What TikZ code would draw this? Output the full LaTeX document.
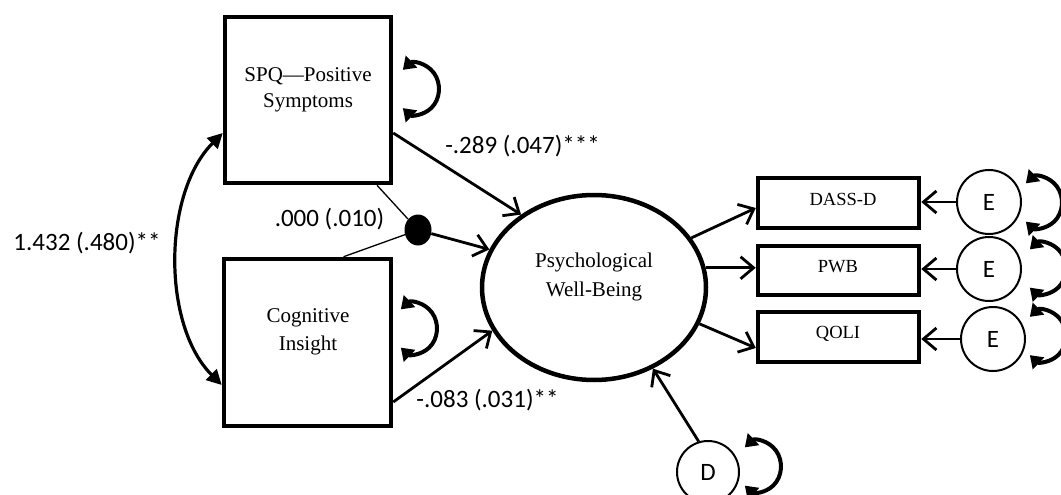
\documentclass[tikz,border=0pt]{standalone}
\usepackage{fontspec}
\setmainfont{Liberation Serif}
\newfontfamily\labfont{Carlito}
\usetikzlibrary{arrows.meta,shapes.geometric}
\begin{document}
\begin{tikzpicture}[x=1pt,y=-1pt,
  sqbox/.style={draw,line width=4.5pt,minimum width=166pt,minimum height=166pt,inner sep=0pt},
  indbox/.style={draw,line width=4.5pt,minimum width=161pt,minimum height=50pt,inner sep=0pt},
  latent/.style={draw,ellipse,line width=4.5pt,minimum width=224pt,minimum height=185pt,inner sep=0pt},
  errc/.style={draw,circle,line width=2pt,minimum size=64pt,inner sep=0pt,font=\labfont\fontsize{25}{30}\selectfont},
  ltxt/.style={font=\fontsize{21}{26}\selectfont,align=center,inner sep=0pt},
  itxt/.style={font=\fontsize{18.5}{22}\selectfont,anchor=base,inner sep=0pt},
  coef/.style={font=\labfont\fontsize{25}{30}\selectfont,anchor=base,inner sep=0pt},
  regarrow/.style={line width=2.8pt,-{Straight Barb[length=13pt,width=22pt]}},
  thinline/.style={line width=1.3pt},
  covarrow/.style={line width=3.2pt,{Triangle[length=15pt,width=15pt]}-{Triangle[length=15pt,width=15pt]}},
  selfloop/.style={line width=4pt,{Triangle[length=12pt,width=16pt]}-{Triangle[length=12pt,width=16pt]}},
]
\useasboundingbox (0,0) rectangle (1061,495);
\clip (0,0) rectangle (1061,495);

% predictors, latent outcome and indicators
\node[sqbox] (spq) at (308,100) {};
\node[ltxt] (spqtxt) at (308,90) {SPQ—Positive\\Symptoms};
\node[sqbox,minimum width=167pt,minimum height=167pt] (cog) at (307.5,342.5) {};
\node[ltxt,font=\fontsize{21}{28}\selectfont] (cogtxt) at (308,332) {Cognitive\\Insight};
\node[latent] (psy) at (594,287.5) {};
\node[ltxt,font=\fontsize{21}{29}\selectfont] (psytxt) at (594,277) {Psychological\\Well-Being};

\node[indbox] (dass) at (838.5,203) {};
\node[itxt] (dasstxt) at (843,205) {DASS-D};
\node[indbox,minimum height=49pt] (pwb) at (838.5,270.5) {};
\node[itxt] (pwbtxt) at (838,272) {PWB};
\node[indbox] (qoli) at (838.5,337) {};
\node[itxt] (qolitxt) at (838,338) {QOLI};

% error terms and disturbance
\node[errc] (e1) at (989,202) {E};
\node[errc] (e2) at (989,269) {E};
\node[errc] (e3) at (993,339) {E};
\node[errc,minimum size=62pt] (d) at (708,472) {D};

% interaction point
\node[ellipse,fill,minimum width=27pt,minimum height=31pt,inner sep=0pt] (mod) at (418,230) {};

% structural paths
\draw[regarrow] ([yshift=-33pt]spq.east) -- (psy.135);
\draw[regarrow] ([yshift=-59.5pt]cog.east) -- (psy.203);
\draw[thinline] ([xshift=69pt]spq.south) -- (mod);
\draw[thinline] ([xshift=36pt]cog.north) -- (mod);
\draw[regarrow] (mod) -- (psy.160);
\draw[covarrow] ([yshift=-33pt]spq.west) .. controls +(-60,60) and +(-60,-60) .. ([yshift=-42.5pt]cog.west);

% measurement paths
\draw[regarrow] (psy.27) -- ([yshift=-5pt]dass.west);
\draw[regarrow] (psy.10) -- (psy.10 -| pwb.west);
\draw[regarrow] (psy.-19) -- ([yshift=-11pt]qoli.west);
\draw[regarrow] (e1.west) -- (e1.west -| dass.east);
\draw[regarrow] (e2.west) -- (e2.west -| pwb.east);
\draw[regarrow] (e3.west) -- (e3.west -| qoli.east);
\draw[regarrow] (d.107) -- (psy.-54);

% variances
\coordinate (vspq) at (417,89);
\coordinate (vcog) at (415,328.5);
\coordinate (ve1) at (1040,202.5);
\coordinate (ve2) at (1044,268.5);
\coordinate (ve3) at (1044,336);
\coordinate (vd) at (759,466.5);
\foreach \c in {vspq,vcog,ve1,ve2,ve3,vd}
  \draw[selfloop] (\c) ++(-130:22 and 25) arc[start angle=-130,end angle=130,x radius=22,y radius=25];

% coefficients
\node[coef] (b1) at (522.5,153) {-.289 (.047)***};
\node[coef] (b2) at (329.5,226) {.000 (.010)};
\node[coef] (b3) at (487.5,407) {-.083 (.031)**};
\node[coef] (c1) at (87,250) {1.432 (.480)**};
\end{tikzpicture}
\end{document}
